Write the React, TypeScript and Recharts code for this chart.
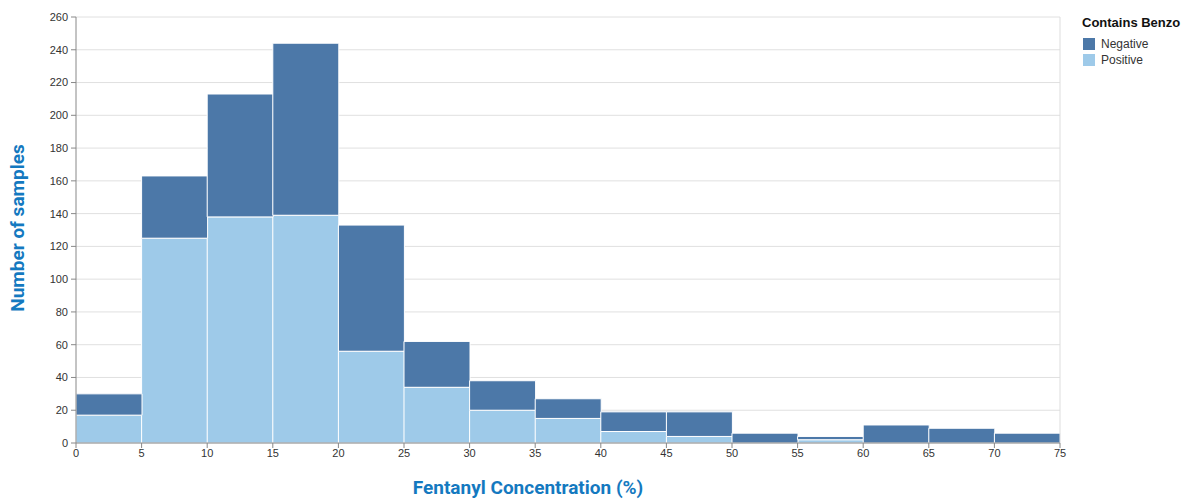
import React from "react";
import { Bar, BarChart, CartesianGrid, ReferenceLine, XAxis, YAxis } from "recharts";

// bins of 5% fentanyl concentration
const binStarts = [0, 5, 10, 15, 20, 25, 30, 35, 40, 45, 50, 55, 60, 65, 70];
const positiveCounts = [17, 125, 138, 139, 56, 34, 20, 15, 7, 4, 0, 2, 0, 0, 0];
const negativeCounts = [13, 38, 75, 105, 77, 28, 18, 12, 12, 15, 6, 2, 11, 9, 6];
const xTicks = [0, 5, 10, 15, 20, 25, 30, 35, 40, 45, 50, 55, 60, 65, 70, 75];
const yTicks = [0, 20, 40, 60, 80, 100, 120, 140, 160, 180, 200, 220, 240, 260];
const legendItems = [
  { name: "Negative", color: "#4c78a8" },
  { name: "Positive", color: "#9ecae9" }
];

const data = binStarts.map((start, i) => ({
  bin: `${start}-${start + 5}`,
  start,
  Positive: positiveCounts[i],
  Negative: negativeCounts[i]
}));

const tickStyle = { fill: "#333", fontSize: 11, fontFamily: "Liberation Sans, Arial, sans-serif" };
const titleStyle: React.CSSProperties = {
  position: "absolute",
  color: "#1479c0",
  fontFamily: "Roboto, 'Noto Sans', sans-serif",
  fontWeight: 700,
  fontSize: 19,
  lineHeight: "20px",
  whiteSpace: "nowrap"
};

const App: React.FC = () => {
  return (
    <div style={{ position: "relative", width: 1175, height: 491 }}>
      <BarChart
        width={1175}
        height={483}
        data={data}
        barCategoryGap={0}
        barGap={0}
        margin={{ top: 9, right: 123, left: 0, bottom: 0 }}
      >
        <CartesianGrid stroke="#e0e0e0" vertical={false} xAxisId="num" />
        <XAxis xAxisId="cat" dataKey="bin" hide height={0} />
        <XAxis
          xAxisId="num"
          type="number"
          dataKey="start"
          domain={[0, 75]}
          ticks={xTicks}
          interval={0}
          height={48}
          stroke="#888"
          tickSize={5}
          tickMargin={1}
          tick={tickStyle}
        />
        <YAxis
          domain={[0, 260]}
          ticks={yTicks}
          interval={0}
          width={68}
          stroke="#888"
          tickSize={5}
          tickMargin={3}
          tick={tickStyle}
        />
        <ReferenceLine xAxisId="num" x={75} stroke="#ddd" />
        <Bar xAxisId="cat" dataKey="Positive" stackId="a" fill="#9ecae9" stroke="#ffffff" strokeWidth={1} isAnimationActive={false} />
        <Bar xAxisId="cat" dataKey="Negative" stackId="a" fill="#4c78a8" stroke="#ffffff" strokeWidth={1} isAnimationActive={false} />
      </BarChart>
      <div
        style={{
          ...titleStyle,
          left: 10,
          top: 220,
          transform: "translate(-50%, -50%) rotate(-90deg)"
        }}
      >
        Number of samples
      </div>
      <div style={{ ...titleStyle, left: 520, top: 470, transform: "translateX(-50%)" }}>
        Fentanyl Concentration (%)
      </div>
      <div
        style={{
          position: "absolute",
          left: 1074,
          top: 7,
          fontFamily: "Liberation Sans, Arial, sans-serif",
          color: "#111"
        }}
      >
        <div style={{ fontWeight: 700, fontSize: 13, marginBottom: 6 }}>Contains Benzo</div>
        {legendItems.map((item) => (
          <div key={item.name} style={{ display: "flex", alignItems: "center", height: 16, fontSize: 12, color: "#333" }}>
            <span style={{ display: "inline-block", width: 12, height: 12, background: item.color, marginRight: 6, marginLeft: 1 }} />
            {item.name}
          </div>
        ))}
      </div>
    </div>
  );
};

export default App;
